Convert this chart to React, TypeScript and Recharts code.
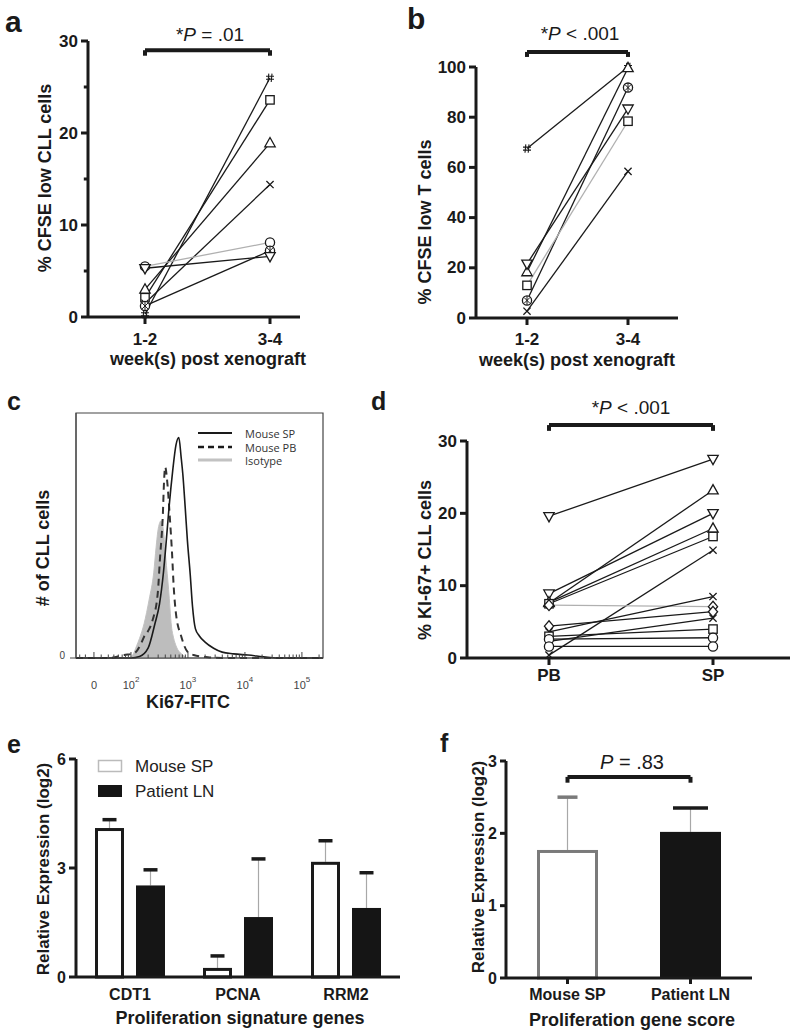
import React from 'react';
import {
  LineChart,
  Line,
  XAxis,
  YAxis,
  ReferenceLine,
  ReferenceArea,
  ComposedChart,
  Area,
  BarChart,
  Bar,
} from 'recharts';

const FONT = '"Liberation Sans", Arial, Helvetica, sans-serif';
const INK = '#1a1a1a';
const GREY_LINE = '#b0b0b0';

// a: % CFSE low CLL cells, week 1-2 vs 3-4
const WEEKS = ['1-2', '3-4'];
const CLL_EARLY = [0.3, 2.1, 3.0, 1.5, 5.5, 1.2, 5.3];
const CLL_LATE = [26.0, 23.6, 18.9, 14.4, 8.1, 7.2, 6.6];
const CLL_MARKS = ['hash', 'square', 'tri', 'x', 'circle', 'otimes', 'down'];
const CLL_GREY = [4];

// b: % CFSE low T cells
const T_EARLY = [67.5, 18.3, 7.0, 21.6, 13.0, 2.7];
const T_LATE = [100, 99.6, 91.8, 83.4, 78.4, 58.4];
const T_MARKS = ['hash', 'tri', 'otimes', 'down', 'square', 'x'];
const T_GREY = [4];

// c: Ki67-FITC histograms, x in decades, y in % of max
const HIST_SP: [number, number][] = [
  [1.035, 0], [2.0, 0], [2.15, 0.6], [2.3, 4], [2.42, 14], [2.5, 22], [2.57, 35],
  [2.62, 48], [2.67, 62], [2.73, 76], [2.79, 87], [2.84, 90], [2.88, 82], [2.91, 75],
  [2.95, 62], [2.99, 48], [3.04, 34], [3.08, 21], [3.13, 12], [3.2, 9], [3.3, 6.5],
  [3.45, 4], [3.6, 2.4], [3.8, 1.7], [4.05, 1.2], [4.4, 0.3], [4.6, 0], [5.37, 0],
];
const HIST_PB: [number, number][] = [
  [1.035, 0], [1.6, 0], [1.88, 1.2], [2.06, 2], [2.18, 6], [2.23, 8.7], [2.3, 11],
  [2.38, 15.5], [2.47, 26.5], [2.51, 41], [2.56, 59], [2.58, 72], [2.6, 78], [2.64, 71],
  [2.68, 58], [2.72, 43], [2.75, 29], [2.79, 18], [2.88, 9], [2.99, 2.6], [3.1, 1.2],
  [3.35, 0.3], [3.6, 0], [5.37, 0],
];
const HIST_ISO: [number, number][] = [
  [1.035, 0], [1.95, 0], [2.03, 1.2], [2.1, 5], [2.15, 8], [2.23, 14], [2.32, 24],
  [2.4, 35], [2.44, 45], [2.48, 53], [2.53, 56], [2.57, 52], [2.61, 41], [2.66, 28],
  [2.71, 13], [2.75, 8], [2.79, 5], [2.91, 1.2], [3.0, 0], [5.37, 0],
];
const KI67_MAJOR = [1.35, 2, 3, 4, 5];
const KI67_EXP = ['', '2', '3', '4', '5'];

// d: % KI-67+ CLL cells, PB vs SP
const SITES = ['PB', 'SP'];
const KI_PB = [19.6, 7.6, 8.9, 7.7, 7.5, 0.4, 7.3, 3.6, 4.4, 2.3, 3.0, 2.6, 1.6];
const KI_SP = [27.5, 23.2, 20.0, 17.9, 16.8, 14.9, 7.1, 8.5, 6.4, 5.5, 4.0, 2.8, 1.6];
const KI_MARKS = ['down', 'tri', 'down', 'tri', 'square', 'x', 'diamond', 'x', 'diamond', 'x', 'square', 'circle', 'circle'];
const KI_GREY = [6];

// e: proliferation signature genes
const GENES = ['CDT1', 'PCNA', 'RRM2'];
const GENE_SP = [4.1, 0.25, 3.17];
const GENE_SP_SD = [0.23, 0.33, 0.58];
const GENE_LN = [2.52, 1.65, 1.9];
const GENE_LN_SD = [0.43, 1.6, 0.97];

// f: proliferation gene score
const GROUPS = ['Mouse SP', 'Patient LN'];
const SCORE = [1.77, 2.02];
const SCORE_SD = [0.73, 0.33];

const pairRows = (cats: string[], first: number[], second: number[]) =>
  cats.map((c, i) => {
    const row: any = { cat: c };
    (i === 0 ? first : second).forEach((v, k) => {
      row[`s${k}`] = v;
    });
    return row;
  });

const cllRows = pairRows(WEEKS, CLL_EARLY, CLL_LATE);
const tRows = pairRows(WEEKS, T_EARLY, T_LATE);
const kiRows = pairRows(SITES, KI_PB, KI_SP);
const histRows = (pts: [number, number][]) => pts.map(([d, v]) => ({ d, v }));
const geneRows = GENES.map((g, i) => ({
  gene: g,
  sp: GENE_SP[i],
  spSd: GENE_SP_SD[i],
  ln: GENE_LN[i],
  lnSd: GENE_LN_SD[i],
}));
const scoreRows = GROUPS.map((g, i) => ({ grp: g, score: SCORE[i], sd: SCORE_SD[i] }));

// minor ticks of the log axis (decoration only)
const KI67_MINOR: number[] = [1.1, 1.2];
for (const n of [1, 2, 3, 4, 5]) {
  for (let k = 2; k <= 9; k++) {
    const t = n + Math.log10(k);
    if (t > 1.4 && t < 5.37) KI67_MINOR.push(t);
  }
}

function Marker({ cx, cy, kind }: any) {
  if (cx == null || cy == null) return null;
  const r = 4.6;
  const common = { fill: '#fff', stroke: INK, strokeWidth: 1.3 };
  switch (kind) {
    case 'circle':
      return <circle cx={cx} cy={cy} r={r} {...common} />;
    case 'square':
      return <rect x={cx - r + 0.4} y={cy - r + 0.4} width={2 * r - 0.8} height={2 * r - 0.8} {...common} />;
    case 'tri':
      return <polygon points={`${cx},${cy - r - 1} ${cx + r + 0.6},${cy + r * 0.8} ${cx - r - 0.6},${cy + r * 0.8}`} {...common} />;
    case 'down':
      return <polygon points={`${cx},${cy + r + 1} ${cx + r + 0.6},${cy - r * 0.8} ${cx - r - 0.6},${cy - r * 0.8}`} {...common} />;
    case 'diamond':
      return <polygon points={`${cx},${cy - r - 0.8} ${cx + r},${cy} ${cx},${cy + r + 0.8} ${cx - r},${cy}`} {...common} />;
    case 'x':
      return (
        <path d={`M${cx - 3.6},${cy - 3.6}L${cx + 3.6},${cy + 3.6}M${cx + 3.6},${cy - 3.6}L${cx - 3.6},${cy + 3.6}`} stroke={INK} strokeWidth={1.3} />
      );
    case 'hash':
      return (
        <path
          d={`M${cx - 1.2},${cy - 4.2}L${cx - 2},${cy + 4.2}M${cx + 2},${cy - 4.2}L${cx + 1.2},${cy + 4.2}M${cx - 4},${cy - 1.5}L${cx + 4},${cy - 1.5}M${cx - 4},${cy + 1.5}L${cx + 4},${cy + 1.5}`}
          stroke={INK}
          strokeWidth={1.1}
        />
      );
    case 'otimes':
      return (
        <g>
          <circle cx={cx} cy={cy} r={r} {...common} />
          <path d={`M${cx - 3},${cy - 3}L${cx + 3},${cy + 3}M${cx + 3},${cy - 3}L${cx - 3},${cy + 3}M${cx},${cy - 4.4}L${cx},${cy + 4.4}`} stroke={INK} strokeWidth={1} />
        </g>
      );
    default:
      return null;
  }
}

function LeftTick(props: any) {
  const { x, y, payload, major, fs = 17, len = 7 } = props;
  const isMajor = !major || major.includes(payload.value);
  const l = isMajor ? len : len * 0.6;
  return (
    <g>
      <line x1={x - l} x2={x} y1={y} y2={y} stroke={INK} strokeWidth={3} />
      {isMajor && (
        <text x={x - len - 3} y={y} textAnchor="end" dominantBaseline="central" fontSize={fs} fontWeight="bold" fontFamily={FONT} fill={INK}>
          {payload.value}
        </text>
      )}
    </g>
  );
}

function BottomTick(props: any) {
  const { x, y, payload, fs = 17, len = 7, gap = 21 } = props;
  return (
    <g>
      {len > 0 && <line x1={x} x2={x} y1={y} y2={y + len} stroke={INK} strokeWidth={3} />}
      <text x={x} y={y + gap} textAnchor="middle" dominantBaseline="central" fontSize={fs} fontWeight="bold" fontFamily={FONT} fill={INK}>
        {payload.value}
      </text>
    </g>
  );
}

function LogTick(props: any) {
  const { x, y, payload } = props;
  const i = KI67_MAJOR.indexOf(payload.value);
  const major = i >= 0;
  return (
    <g>
      <line x1={x} x2={x} y1={y} y2={y - (major ? 6 : 3.5)} stroke="#444" strokeWidth={1} />
      {major && (
        <text x={x} y={y + 31} textAnchor="middle" fontSize={11} fontFamily={FONT} fill="#444">
          {i === 0 ? '0' : '10'}
          {i > 0 && (
            <tspan dy={-7} fontSize={8}>
              {KI67_EXP[i]}
            </tspan>
          )}
        </text>
      )}
    </g>
  );
}

function ZeroTick(props: any) {
  const { x, y, payload } = props;
  return (
    <g>
      <line x1={x - 6} x2={x} y1={y} y2={y} stroke="#444" strokeWidth={1} />
      <text x={x - 11} y={y - 3} textAnchor="end" dominantBaseline="central" fontSize={10} fontFamily={FONT} fill="#444">
        {payload.value}
      </text>
    </g>
  );
}

function BarWithErr(props: any) {
  const { x, y, width, height, val, sd, hollow, edge, capColor, capW } = props;
  if (!height || !val) return null;
  const cx = x + width / 2;
  const errTop = y - (sd * height) / val;
  return (
    <g>
      <line x1={cx} x2={cx} y1={y} y2={errTop} stroke="#a8a8a8" strokeWidth={1.2} />
      <line x1={cx - capW / 2} x2={cx + capW / 2} y1={errTop} y2={errTop} stroke={capColor} strokeWidth={3.5} />
      {hollow ? (
        <rect x={x + 1.5} y={y + 1.5} width={width - 3} height={height - 1.5} fill="#fff" stroke={edge} strokeWidth={3} />
      ) : (
        <rect x={x} y={y} width={width} height={height} fill="#151515" />
      )}
    </g>
  );
}

const axisLine = { stroke: INK, strokeWidth: 3 };

function pairLines(n: number, marks: string[], grey: number[]) {
  return Array.from({ length: n }, (_, k) => (
    <Line
      key={k}
      dataKey={`s${k}`}
      stroke={grey.includes(k) ? GREY_LINE : INK}
      strokeWidth={1.3}
      isAnimationActive={false}
      activeDot={false}
      dot={(p: any) => <Marker key={`m${k}-${p.index}`} cx={p.cx} cy={p.cy} kind={marks[k]} />}
    />
  ));
}

function bracket(x1: string, x2: string, y: number, drop: number) {
  const st = { stroke: INK, strokeWidth: 4, ifOverflow: 'visible' as const };
  return [
    <ReferenceLine key="h" segment={[{ x: x1, y }, { x: x2, y }]} {...st} />,
    <ReferenceLine key="l" segment={[{ x: x1, y }, { x: x1, y: y - drop }]} {...st} />,
    <ReferenceLine key="r" segment={[{ x: x2, y }, { x: x2, y: y - drop }]} {...st} />,
  ];
}

function T({ x, y, size = 18, bold = true, rot = false, anchor = 'middle', fill = INK, family = FONT, base = 'central', children }: any) {
  return (
    <text
      x={rot ? 0 : x}
      y={rot ? 0 : y}
      transform={rot ? `translate(${x},${y}) rotate(-90)` : undefined}
      textAnchor={anchor}
      dominantBaseline={base}
      fontSize={size}
      fontWeight={bold ? 'bold' : 'normal'}
      fontFamily={family}
      fill={fill}
    >
      {children}
    </text>
  );
}

export default function App() {
  return (
    <div style={{ position: 'absolute', left: 0, top: 0, width: 800, height: 1036, background: '#fff', fontFamily: FONT }}>
      {/* a */}
      <div style={{ position: 'absolute', left: 0, top: 0 }}>
        <LineChart width={400} height={365} data={cllRows} margin={{ top: 41, right: 100, bottom: 0, left: 28 }}>
          <XAxis dataKey="cat" padding={{ left: 57, right: 30 }} height={48} axisLine={axisLine} tickLine={false} tickSize={0} tickMargin={0} interval={0} tick={<BottomTick gap={22} />} />
          <YAxis domain={[0, 30]} ticks={[0, 5, 10, 15, 20, 25, 30]} interval={0} width={60} axisLine={axisLine} tickLine={false} tickSize={0} tickMargin={0} tick={<LeftTick major={[0, 10, 20, 30]} />} />
          {bracket('1-2', '3-4', 29.0, 0.6)}
          {pairLines(CLL_EARLY.length, CLL_MARKS, CLL_GREY)}
        </LineChart>
      </div>

      {/* b */}
      <div style={{ position: 'absolute', left: 400, top: 0 }}>
        <LineChart width={400} height={365} data={tRows} margin={{ top: 67, right: 122, bottom: 0, left: 26 }}>
          <XAxis dataKey="cat" padding={{ left: 51, right: 50 }} height={47} axisLine={axisLine} tickLine={false} tickSize={0} tickMargin={0} interval={0} tick={<BottomTick gap={21} />} />
          <YAxis domain={[0, 100]} ticks={[0, 20, 40, 60, 80, 100]} interval={0} width={50} axisLine={axisLine} tickLine={false} tickSize={0} tickMargin={0} tick={<LeftTick />} />
          {bracket('1-2', '3-4', 106, 2)}
          {pairLines(T_EARLY.length, T_MARKS, T_GREY)}
        </LineChart>
      </div>

      {/* c */}
      <div style={{ position: 'absolute', left: 0, top: 380 }}>
        <ComposedChart width={400} height={330} margin={{ top: 33, right: 77, bottom: 0, left: 26 }}>
          <XAxis type="number" dataKey="d" domain={[1.035, 5.37]} allowDataOverflow ticks={[...KI67_MAJOR, ...KI67_MINOR]} interval={0} height={52} axisLine={{ stroke: '#444' }} tickLine={false} tickSize={0} tickMargin={0} tick={<LogTick />} />
          <YAxis type="number" domain={[0, 100]} ticks={[0]} width={50} axisLine={{ stroke: '#444' }} tickLine={false} tickSize={0} tickMargin={0} tick={<ZeroTick />} />
          <ReferenceArea x1={1.035} x2={5.37} y1={0} y2={100} fill="none" stroke="#444" strokeWidth={1.2} ifOverflow="visible" />
          <Area data={histRows(HIST_ISO)} dataKey="v" type="monotone" fill="#bdbdbd" fillOpacity={1} stroke="#c2c2c2" strokeWidth={1} isAnimationActive={false} activeDot={false} />
          <Line data={histRows(HIST_PB)} dataKey="v" type="monotone" stroke="#333" strokeWidth={2} strokeDasharray="7 5" dot={false} activeDot={false} isAnimationActive={false} />
          <Line data={histRows(HIST_SP)} dataKey="v" type="monotone" stroke={INK} strokeWidth={1.6} dot={false} activeDot={false} isAnimationActive={false} />
        </ComposedChart>
      </div>

      {/* d */}
      <div style={{ position: 'absolute', left: 400, top: 380 }}>
        <LineChart width={400} height={330} data={kiRows} margin={{ top: 61, right: 10, bottom: 0, left: 17 }}>
          <XAxis dataKey="cat" padding={{ left: 82, right: 77 }} height={52} axisLine={axisLine} tickLine={false} tickSize={0} tickMargin={0} interval={0} tick={<BottomTick gap={17} />} />
          <YAxis domain={[0, 30]} ticks={[0, 10, 20, 30]} interval={0} width={50} axisLine={axisLine} tickLine={false} tickSize={0} tickMargin={0} tick={<LeftTick />} />
          {bracket('PB', 'SP', 32.2, 0.8)}
          {pairLines(KI_PB.length, KI_MARKS, KI_GREY)}
        </LineChart>
      </div>

      {/* e */}
      <div style={{ position: 'absolute', left: 0, top: 720 }}>
        <BarChart width={400} height={316} data={geneRows} margin={{ top: 39, right: 0, bottom: 0, left: 26 }} barSize={29} barGap={12}>
          <XAxis dataKey="gene" height={59} axisLine={axisLine} tickLine={false} tickSize={0} tickMargin={0} interval={0} tick={<BottomTick gap={17} len={0} fs={16} />} />
          <YAxis domain={[0, 6]} ticks={[0, 3, 6]} interval={0} width={50} axisLine={axisLine} tickLine={false} tickSize={0} tickMargin={0} tick={<LeftTick fs={16} />} />
          <Bar dataKey="sp" isAnimationActive={false} shape={(p: any) => <BarWithErr {...p} val={p.payload.sp} sd={p.payload.spSd} hollow edge={INK} capColor={INK} capW={14} />} />
          <Bar dataKey="ln" isAnimationActive={false} shape={(p: any) => <BarWithErr {...p} val={p.payload.ln} sd={p.payload.lnSd} capColor={INK} capW={14} />} />
        </BarChart>
      </div>

      {/* f */}
      <div style={{ position: 'absolute', left: 400, top: 720 }}>
        <BarChart width={400} height={316} data={scoreRows} margin={{ top: 41, right: 48, bottom: 0, left: 66 }} barSize={61}>
          <XAxis dataKey="grp" height={58} axisLine={axisLine} tickLine={false} tickSize={0} tickMargin={0} interval={0} tick={<BottomTick gap={16} len={6} fs={16} />} />
          <YAxis domain={[0, 3]} ticks={[0, 1, 2, 3]} interval={0} width={40} axisLine={axisLine} tickLine={false} tickSize={0} tickMargin={0} tick={<LeftTick len={6} fs={16} />} />
          {bracket('Mouse SP', 'Patient LN', 2.78, 0.08)}
          <Bar
            dataKey="score"
            isAnimationActive={false}
            shape={(p: any) =>
              p.index === 0 ? (
                <BarWithErr {...p} val={p.payload.score} sd={p.payload.sd} hollow edge="#7a7a7a" capColor="#7a7a7a" capW={20} />
              ) : (
                <BarWithErr {...p} val={p.payload.score} sd={p.payload.sd} capColor={INK} capW={35} />
              )
            }
          />
        </BarChart>
      </div>

      {/* titles, letters, p-values, legends */}
      <svg width={800} height={1036} style={{ position: 'absolute', left: 0, top: 0, pointerEvents: 'none' }}>
        <T x={5} y={32} size={30} anchor="start" base="alphabetic">a</T>
        <T x={407} y={29} size={30} anchor="start" base="alphabetic">b</T>
        <T x={7} y={410} size={25} anchor="start" base="alphabetic">c</T>
        <T x={371} y={410} size={25} anchor="start" base="alphabetic">d</T>
        <T x={7} y={753} size={25} anchor="start" base="alphabetic">e</T>
        <T x={440} y={752} size={25} anchor="start" base="alphabetic">f</T>

        <T x={210} y={34} size={19} bold={false}>
          *<tspan fontStyle="italic">P</tspan> = .01
        </T>
        <T x={580} y={33} size={19} bold={false}>
          *<tspan fontStyle="italic">P</tspan> {'<'} .001
        </T>
        <T x={631} y={407} size={19} bold={false}>
          *<tspan fontStyle="italic">P</tspan> {'<'} .001
        </T>
        <T x={632} y={762} size={20} bold={false}>
          <tspan fontStyle="italic">P</tspan> = .83
        </T>

        <T x={45} y={178} rot>% CFSE low CLL cells</T>
        <T x={208} y={359}>week(s) post xenograft</T>
        <T x={425} y={222} rot>% CFSE low T cells</T>
        <T x={577} y={360}>week(s) post xenograft</T>
        <T x={43} y={548} rot># of CLL cells</T>
        <T x={188} y={702}>Ki67-FITC</T>
        <T x={425} y={560} rot>% KI-67+ CLL cells</T>
        <T x={43} y={869} size={17} rot>Relative Expression (log2)</T>
        <T x={240} y={1018}>Proliferation signature genes</T>
        <T x={478} y={867} size={17} rot>Relative Expression (log2)</T>
        <T x={632} y={1020}>Proliferation gene score</T>

        {/* c legend */}
        <line x1={198} x2={232} y1={433} y2={433} stroke={INK} strokeWidth={2} />
        <line x1={198} x2={232} y1={447} y2={447} stroke={INK} strokeWidth={2.5} strokeDasharray="6 4" />
        <line x1={198} x2={232} y1={460} y2={460} stroke="#c2c2c2" strokeWidth={3} />
        <T x={245} y={433} size={11} bold={false} anchor="start" fill="#333" family='"Open Sans", sans-serif'>Mouse SP</T>
        <T x={245} y={447} size={11} bold={false} anchor="start" fill="#333" family='"Open Sans", sans-serif'>Mouse PB</T>
        <T x={245} y={460} size={11} bold={false} anchor="start" fill="#333" family='"Open Sans", sans-serif'>Isotype</T>

        {/* e legend */}
        <rect x={98.5} y={760.5} width={23} height={11} fill="#fff" stroke="#bbb" strokeWidth={1.5} />
        <rect x={98} y={785} width={24} height={12} fill="#151515" />
        <T x={135} y={766} size={17} bold={false} anchor="start" fill="#222">Mouse SP</T>
        <T x={135} y={791} size={17} bold={false} anchor="start" fill="#222">Patient LN</T>
      </svg>
    </div>
  );
}
